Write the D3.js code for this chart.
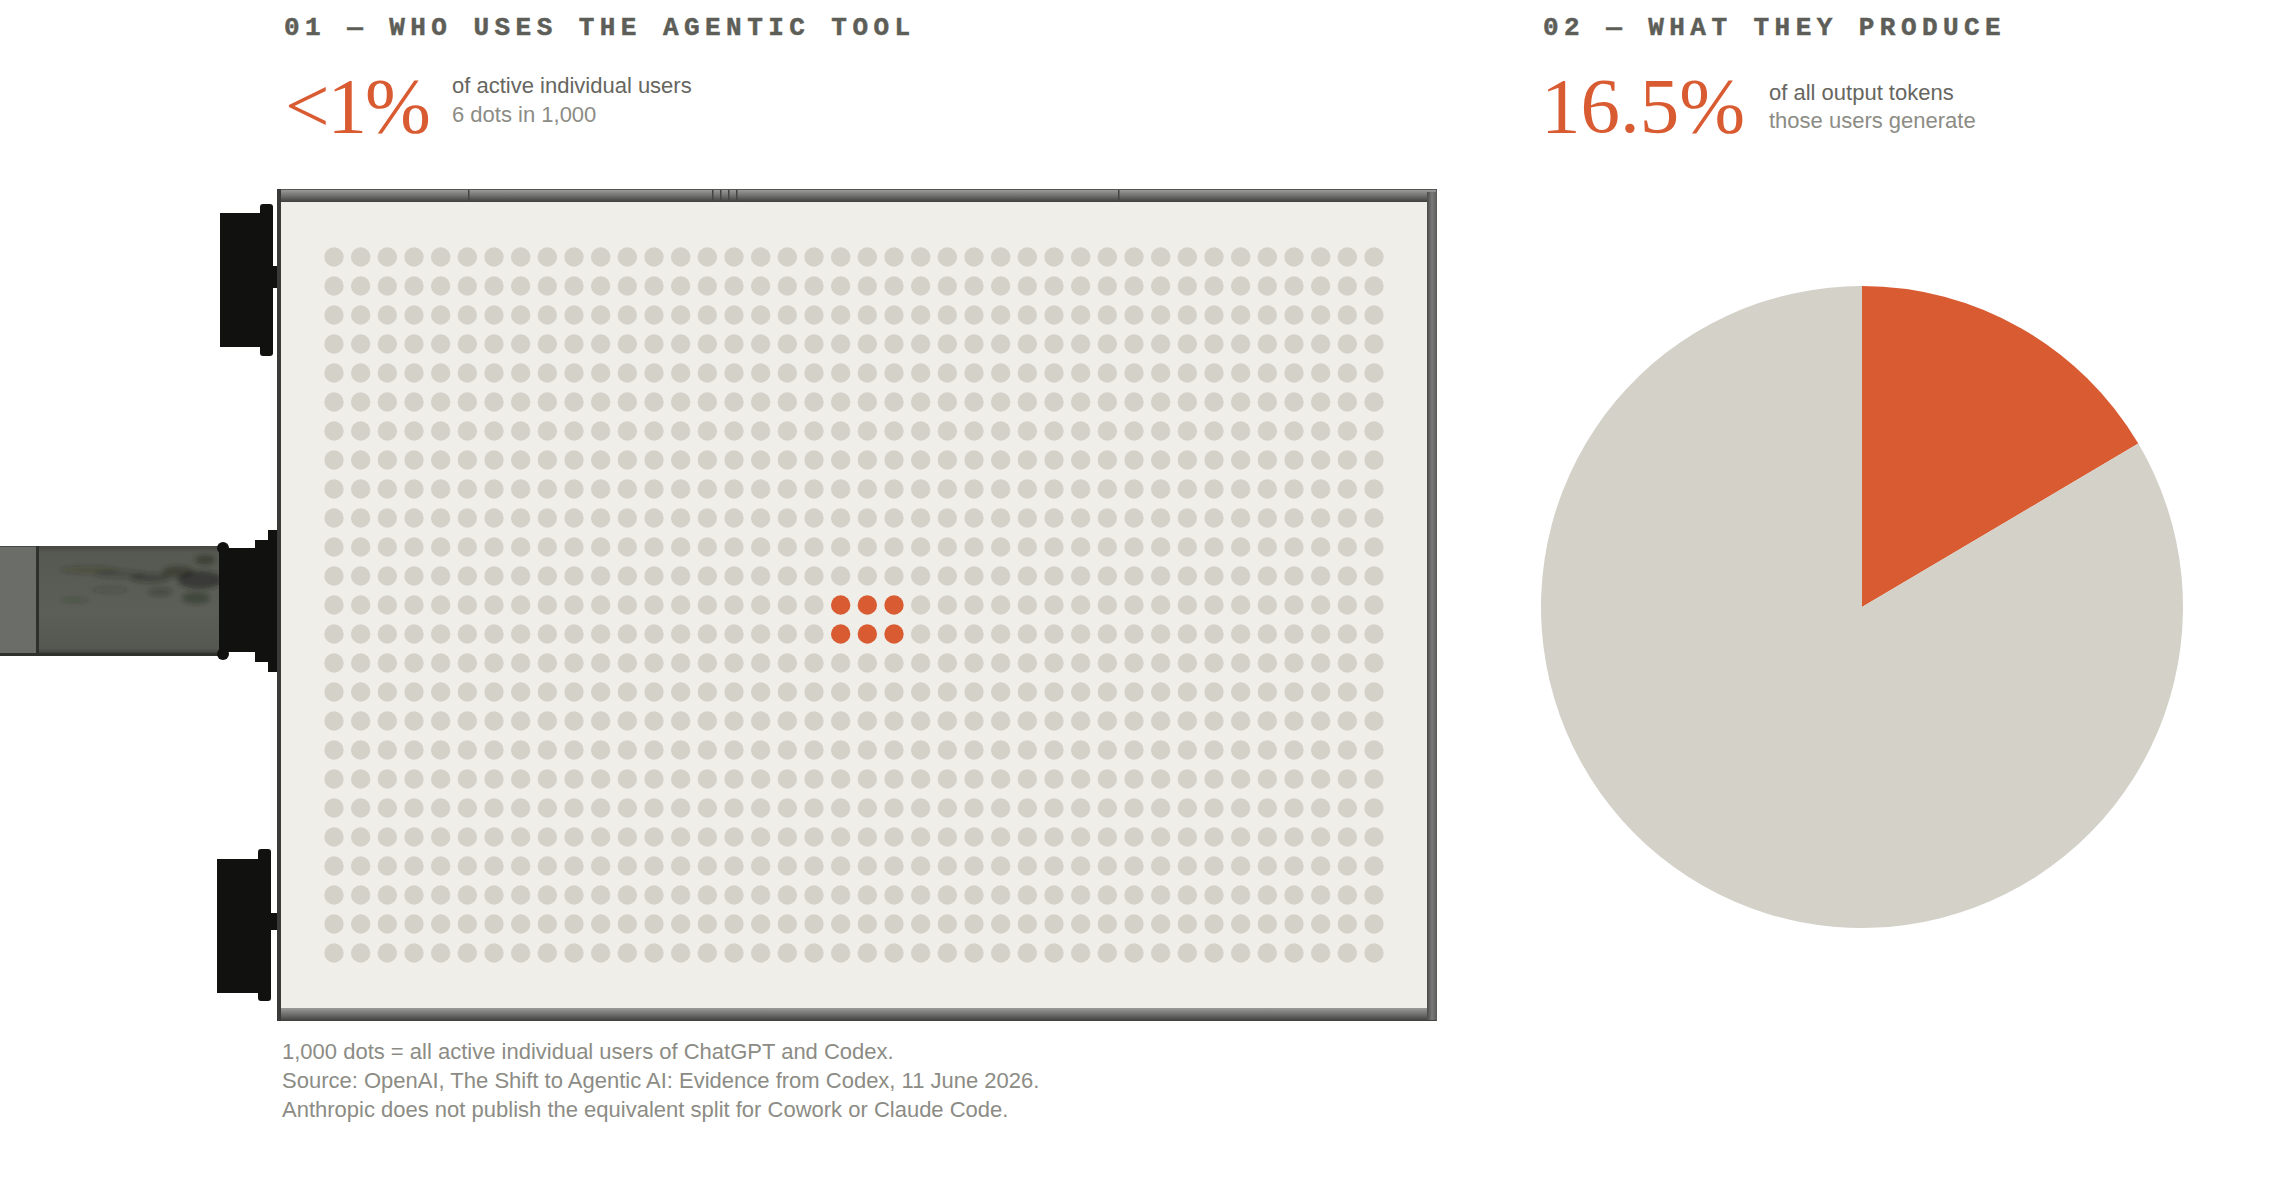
<!DOCTYPE html>
<html>
<head>
<meta charset="utf-8">
<script src="https://cdn.jsdelivr.net/npm/d3@7/dist/d3.min.js"></script>
<style>
  html, body { margin: 0; padding: 0; background: #ffffff; }
  svg { display: block; }
  .mono { font-family: "Courier New", "Liberation Mono", monospace; font-weight: 700; }
  .serif { font-family: "Liberation Serif", "Times New Roman", serif; }
  .sans { font-family: "Liberation Sans", Arial, Helvetica, sans-serif; }
</style>
</head>
<body>
<svg id="chart" width="2280" height="1200"></svg>
<script>
// ---------- data ----------
const sectionTitles = ["01 — WHO USES THE AGENTIC TOOL", "02 — WHAT THEY PRODUCE"];
const headlineValues = ["<1%", "16.5%"];
const headlineMain = ["of active individual users", "of all output tokens"];
const headlineSub = ["6 dots in 1,000", "those users generate"];
const footnotes = [
  "1,000 dots = all active individual users of ChatGPT and Codex.",
  "Source: OpenAI, The Shift to Agentic AI: Evidence from Codex, 11 June 2026.",
  "Anthropic does not publish the equivalent split for Cowork or Claude Code."
];
const gridColumns = d3.range(40);           // 40 columns
const gridRows = d3.range(25);              // 25 rows -> 1,000 dots
const highlightedCells = [[19,12],[20,12],[21,12],[19,13],[20,13],[21,13]]; // 6 dots
const pieLabels = ["Agentic tool users", "All other users"];
const pieValues = [16.5, 83.5];

// ---------- styles ----------
const ORANGE = "#D95B32";
const DOT_GREY = "#D3D1C8";
const PANEL = "#EFEEE9";
const INK = "#5E5E58";
const INK_LIGHT = "#8C8C85";

const svg = d3.select("#chart");
const defs = svg.append("defs");

// gradients & texture
const frameGradV = defs.append("linearGradient").attr("id","frameV").attr("x1",0).attr("y1",0).attr("x2",0).attr("y2",1);
frameGradV.append("stop").attr("offset","0%").attr("stop-color","#9a9a98");
frameGradV.append("stop").attr("offset","50%").attr("stop-color","#6e6e6c");
frameGradV.append("stop").attr("offset","100%").attr("stop-color","#3e3e3c");
const frameGradH = defs.append("linearGradient").attr("id","frameH").attr("x1",0).attr("y1",0).attr("x2",1).attr("y2",0);
frameGradH.append("stop").attr("offset","0%").attr("stop-color","#4a4a48");
frameGradH.append("stop").attr("offset","50%").attr("stop-color","#7a7a78");
frameGradH.append("stop").attr("offset","100%").attr("stop-color","#5a5a58");
const poleGrad = defs.append("linearGradient").attr("id","pole").attr("x1",0).attr("y1",0).attr("x2",0).attr("y2",1);
poleGrad.append("stop").attr("offset","0%").attr("stop-color","#44463f");
poleGrad.append("stop").attr("offset","6%").attr("stop-color","#565951");
poleGrad.append("stop").attr("offset","60%").attr("stop-color","#5c5f57");
poleGrad.append("stop").attr("offset","94%").attr("stop-color","#555850");
poleGrad.append("stop").attr("offset","100%").attr("stop-color","#383a35");
defs.append("filter").attr("id","soft").attr("x","-50%").attr("y","-50%").attr("width","200%").attr("height","200%")
  .append("feGaussianBlur").attr("stdDeviation",2.2);
defs.append("clipPath").attr("id","poleClip").append("rect")
  .attr("x",39).attr("y",549).attr("width",181).attr("height",103);

// ---------- section headers ----------
const headerX = [284, 1543];
svg.selectAll("text.title").data(sectionTitles).join("text")
  .attr("class","title mono")
  .attr("x",(d,i)=>headerX[i]).attr("y",35)
  .attr("font-size",26).attr("letter-spacing",5.45).attr("fill",INK)
  .attr("stroke",INK).attr("stroke-width",0.5)
  .text(d=>d);

const bigX = [285, 1541];
svg.selectAll("text.big").data(headlineValues).join("text")
  .attr("class","big serif")
  .attr("x",(d,i)=>bigX[i]).attr("y",132)
  .attr("font-size",79).attr("letter-spacing",(d,i)=> i===0 ? -2 : 0).attr("fill",ORANGE)
  .text(d=>d);

const subX = [452, 1769];
const subY = [[93,122],[100,128]];
svg.selectAll("text.sub1").data(headlineMain).join("text")
  .attr("class","sub1 sans").attr("x",(d,i)=>subX[i]).attr("y",(d,i)=>subY[i][0])
  .attr("font-size",22).attr("fill","#66665F").text(d=>d);
svg.selectAll("text.sub2").data(headlineSub).join("text")
  .attr("class","sub2 sans").attr("x",(d,i)=>subX[i]).attr("y",(d,i)=>subY[i][1])
  .attr("font-size",22).attr("fill",INK_LIGHT).text(d=>d);

// ---------- billboard hardware ----------
const hw = svg.append("g");
// pole
hw.append("rect").attr("x",0).attr("y",546).attr("width",221).attr("height",109).attr("fill","url(#pole)");
hw.append("rect").attr("x",0).attr("y",547).attr("width",37).attr("height",107).attr("fill","#6a6d68");
hw.append("rect").attr("x",36).attr("y",546).attr("width",3).attr("height",109).attr("fill","#2e302c");
// weathering stains on the pole (decorative)
const stains = hw.append("g").attr("clip-path","url(#poleClip)").attr("filter","url(#soft)");
[[200,580,22,9,0.55],[178,572,16,6,0.45],[150,578,20,5,0.35],[120,574,26,4,0.25],[90,570,30,4,0.2],
 [196,598,14,6,0.4],[160,592,12,4,0.3],[205,560,10,5,0.45],[110,590,18,3,0.18],[75,600,14,3,0.15]]
  .forEach(([cx,cy,rx,ry,o]) => stains.append("ellipse").attr("cx",cx).attr("cy",cy).attr("rx",rx).attr("ry",ry)
    .attr("fill","#1e201b").attr("opacity",o));
hw.append("rect").attr("x",0).attr("y",653).attr("width",221).attr("height",3).attr("fill","#2f312d");
// middle bracket
const black = "#111210";
hw.append("rect").attr("x",219).attr("y",548).attr("width",38).attr("height",104).attr("fill",black);
hw.append("circle").attr("cx",223).attr("cy",548).attr("r",6).attr("fill",black);
hw.append("circle").attr("cx",223).attr("cy",654).attr("r",6).attr("fill",black);
hw.append("rect").attr("x",255).attr("y",540).attr("width",14).attr("height",122).attr("fill",black);
hw.append("rect").attr("x",268).attr("y",530).attr("width",12).attr("height",142).attr("fill",black);
// top bracket
hw.append("rect").attr("x",220).attr("y",213).attr("width",42).attr("height",134).attr("fill",black);
hw.append("rect").attr("x",260).attr("y",204).attr("width",13).attr("height",152).attr("rx",3).attr("fill",black);
hw.append("rect").attr("x",272).attr("y",266).attr("width",7).attr("height",22).attr("fill",black);
// bottom bracket
hw.append("rect").attr("x",217).attr("y",859).attr("width",43).attr("height",134).attr("fill",black);
hw.append("rect").attr("x",258).attr("y",849).attr("width",13).attr("height",152).attr("rx",3).attr("fill",black);
hw.append("rect").attr("x",270).attr("y",913).attr("width",9).attr("height",17).attr("fill",black);

// frame
const frame = svg.append("g");
frame.append("rect").attr("x",277).attr("y",189).attr("width",1160).attr("height",832).attr("fill","#555553");
frame.append("rect").attr("x",280).attr("y",190).attr("width",1156).attr("height",12).attr("fill","url(#frameV)");
frame.append("rect").attr("x",280).attr("y",1008).attr("width",1156).attr("height",13).attr("fill","url(#frameV)");
frame.append("rect").attr("x",1427).attr("y",192).attr("width",10).attr("height",828).attr("fill","url(#frameH)");
frame.append("rect").attr("x",277).attr("y",189).attr("width",4).attr("height",832).attr("fill","#3a3a38");
[468, 712, 720, 728, 736, 1118].forEach(x => frame.append("rect").attr("x",x).attr("y",190).attr("width",1.5).attr("height",12).attr("fill","#444442"));
// panel
frame.append("rect").attr("x",281).attr("y",202).attr("width",1146).attr("height",806).attr("fill",PANEL);

// ---------- dot grid ----------
const xScale = d3.scalePoint().domain(gridColumns).range([334, 1374]);
const yScale = d3.scalePoint().domain(gridRows).range([257, 953]);
const isHighlighted = (c,r) => highlightedCells.some(([hc,hr]) => hc===c && hr===r);
const cells = [];
gridRows.forEach(r => gridColumns.forEach(c => cells.push({c, r, on: isHighlighted(c,r)})));
svg.append("g").selectAll("circle").data(cells).join("circle")
  .attr("cx", d => xScale(d.c)).attr("cy", d => yScale(d.r)).attr("r", 9.7)
  .attr("fill", d => d.on ? ORANGE : DOT_GREY);

// ---------- footnotes ----------
svg.selectAll("text.foot").data(footnotes).join("text")
  .attr("class","foot sans").attr("x",282).attr("y",(d,i)=>1059 + i*29)
  .attr("font-size",22).attr("fill",INK_LIGHT).text(d=>d);

// ---------- pie ----------
const pieData = pieLabels.map((l,i)=>({label:l, value:pieValues[i]}));
const pie = d3.pie().value(d=>d.value).sort(null);
const arc = d3.arc().innerRadius(0).outerRadius(321);
const color = d3.scaleOrdinal().domain(pieLabels).range([ORANGE, DOT_GREY]);
svg.append("g").attr("transform","translate(1862,607)")
  .selectAll("path").data(pie(pieData)).join("path")
  .attr("d", arc).attr("fill", d => color(d.data.label));
</script>
</body>
</html>
